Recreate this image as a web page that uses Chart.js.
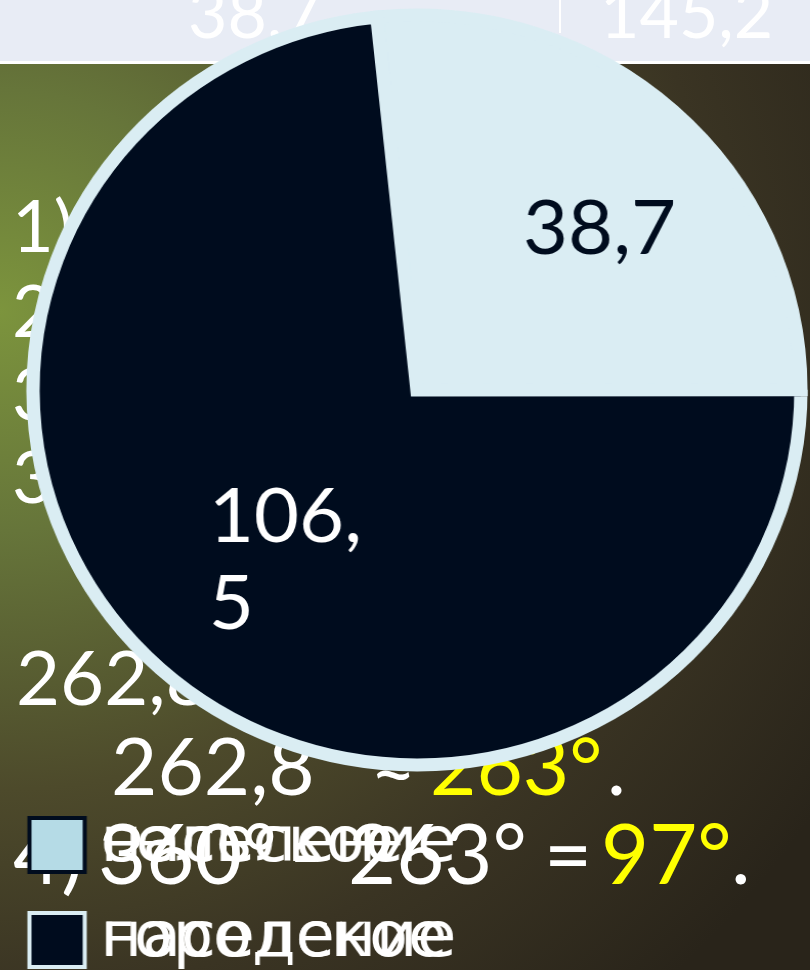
<!DOCTYPE html>
<html lang="ru">
<head>
<meta charset="utf-8">
<title>Население</title>
<script src="https://cdn.jsdelivr.net/npm/chart.js@4.4.1/dist/chart.umd.min.js"></script>
<style>
  html, body { margin: 0; padding: 0; }
  body {
    width: 810px; height: 970px; overflow: hidden; position: relative;
    font-family: Lato, sans-serif; color: #fff;
    background: radial-gradient(ellipse 120% 95% at 0% 32%, #7c943d 0%, #66753a 24%, #4d4a2b 52%, #3a3423 74%, #29241a 100%);
  }
  .band { position: absolute; left: 0; top: 0; width: 810px; height: 61px; background: #e8ecf5; border-bottom: 3px solid #fff; overflow: hidden; }
  .band span, .line { position: absolute; line-height: 1; white-space: pre; }
  .band span { font-size: 68px; top: -22px; }
  .band i { position: absolute; left: 559px; top: 0; width: 2px; height: 33px; background: #fff; }
  .y { color: #ffff00; }
  .l7 { top: 811px; font-size: 83px; }
</style>
</head>
<body>
<div class="band"><span style="left:188px">38,7</span><i></i><span style="left:600px">145,2</span></div>

<div class="line" style="left:12px;top:188px;font-size:72px">1)</div>
<div class="line" style="left:12px;top:273px;font-size:72px">2)</div>
<div class="line" style="left:12px;top:356px;font-size:72px">3)</div>
<div class="line" style="left:12px;top:439px;font-size:72px">360°</div>
<div class="line" style="left:16px;top:638px;font-size:76px">262,8</div>
<div class="line" style="left:111px;top:724px;font-size:80px">262,8</div>
<div class="line" style="left:370px;top:724px;font-size:80px">≈</div>
<div class="line y" style="left:430px;top:724px;font-size:80px">263°</div>
<div class="line" style="left:607px;top:724px;font-size:80px">.</div>
<div class="line l7" style="left:13px">4)</div>
<div class="line l7" style="left:98px">360°</div>
<div class="line l7" style="left:290px">-</div>
<div class="line l7" style="left:348px">263°</div>
<div class="line l7" style="left:544px">=</div>
<div class="line l7 y" style="left:601px">97°</div>
<div class="line l7" style="left:731px">.</div>

<canvas id="pie" width="840" height="982" style="position:absolute;left:-11px;top:-1px;width:860px;height:982px"></canvas>

<script>
// население, млн человек
const categories = ['сельское население', 'городское население'];
const population = [38.7, 106.5];

const sliceColors = ['#daedf3', '#000c1e'];
const legendFill = ['#b5dbe6', '#000c1e'];
const legendStroke = ['#000c1e', '#daedf3'];
const labelColors = ['#000c1e', '#ffffff'];

// подписи значений внутри секторов, длинные переносятся после запятой
const sliceLabels = {
  id: 'sliceLabels',
  afterDatasetsDraw(chart, args, opts) {
    const ctx = chart.ctx;
    const meta = chart.getDatasetMeta(0);
    const values = chart.data.datasets[0].data;
    ctx.save();
    ctx.font = opts.font;
    ctx.textBaseline = 'middle';
    ctx.textAlign = 'left';
    meta.data.forEach((arc, i) => {
      const { x, y, startAngle, endAngle, outerRadius } =
        arc.getProps(['x', 'y', 'startAngle', 'endAngle', 'outerRadius'], true);
      const text = values[i].toFixed(1).replace('.', ',');
      let lines = [text];
      if (ctx.measureText(text).width > opts.maxWidth) {
        const cut = text.indexOf(',') + 1;
        lines = [text.slice(0, cut), text.slice(cut)];
      }
      const p = opts.place[i];
      const a = (startAngle + endAngle) / 2 + p.turn * Math.PI / 180;
      const cx = x + Math.cos(a) * outerRadius * p.frac;
      const cy = y + Math.sin(a) * outerRadius * p.frac;
      const w = Math.max(...lines.map(l => ctx.measureText(l).width));
      const top = cy - (lines.length - 1) * opts.lineHeight / 2;
      ctx.fillStyle = labelColors[i];
      lines.forEach((l, k) => ctx.fillText(l, cx - w / 2, top + k * opts.lineHeight));
    });
    ctx.restore();
  }
};

new Chart(document.getElementById('pie'), {
  type: 'pie',
  data: {
    labels: categories,
    datasets: [{
      data: population,
      backgroundColor: sliceColors,
      borderColor: '#daedf3',
      borderWidth: 13,
      borderJoinStyle: 'miter',
      hoverOffset: 0,
      offset: 0
    }]
  },
  plugins: [sliceLabels],
  options: {
    responsive: false,
    devicePixelRatio: 1,
    animation: false,
    events: [],
    rotation: -6,
    radius: 375,
    layout: { padding: { left: 22, right: 26, top: 0, bottom: 0 } },
    plugins: {
      tooltip: { enabled: false },
      legend: {
        position: 'bottom',
        align: 'start',
        labels: {
          usePointStyle: true,
          boxWidth: 23,
          boxHeight: 54,
          padding: 33,
          color: '#fff',
          font: { family: "'DejaVu Sans'", size: 62, lineHeight: '0px' },
          generateLabels: () => categories.map((name, i) => ({
            text: name.split(' '),
            pointStyle: 'rect',
            rotation: 0,
            fillStyle: legendFill[i],
            strokeStyle: legendStroke[i],
            lineWidth: 4,
            lineCap: 'butt',
            lineDash: [],
            lineDashOffset: 0,
            lineJoin: 'miter',
            fontColor: '#fff',
            hidden: false,
            index: i
          }))
        }
      },
      sliceLabels: {
        font: '76px Lato',
        lineHeight: 87,
        maxWidth: 160,
        place: [{ frac: 0.64, turn: 6 }, { frac: 0.57, turn: -5 }]
      }
    }
  }
});
</script>
</body>
</html>
